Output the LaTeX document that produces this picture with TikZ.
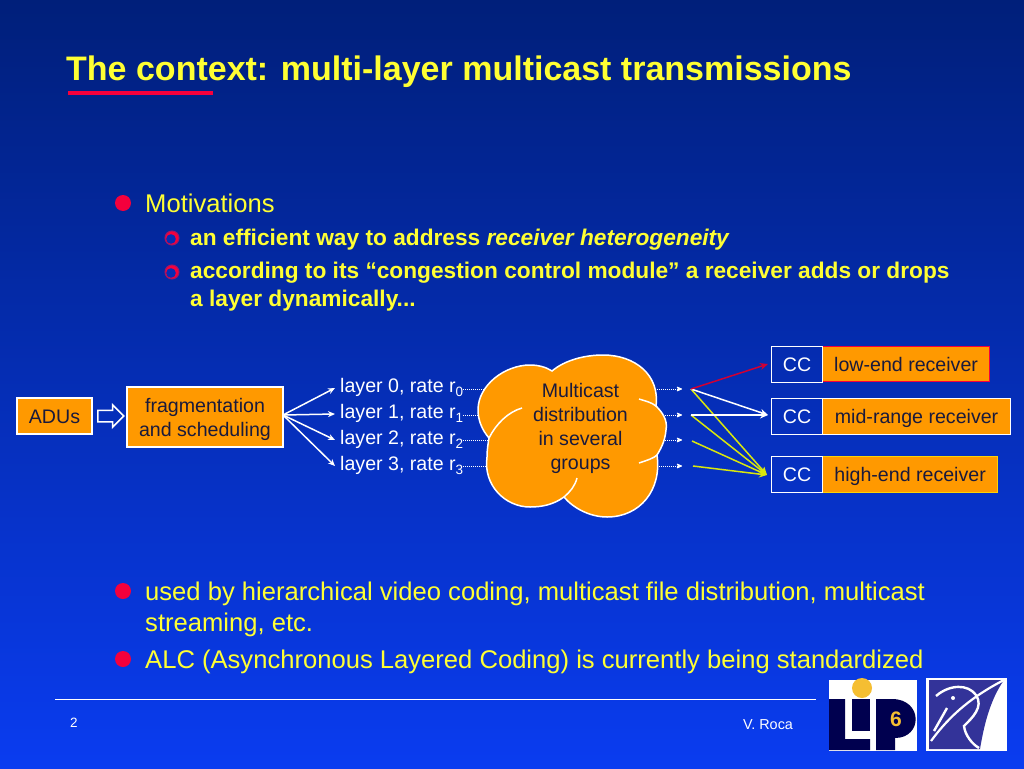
\documentclass[tikz,border=0pt]{standalone}
\usepackage{fontspec}
\setmainfont{Liberation Sans}
\usetikzlibrary{arrows.meta,shapes,positioning}
\definecolor{slideyellow}{HTML}{FFFF33}
\definecolor{boxorange}{HTML}{FF9900}
\definecolor{bulletred}{HTML}{F5003C}
\definecolor{darktext}{HTML}{1A1A3C}
\definecolor{bgtop}{HTML}{001F7A}
\definecolor{bgmid}{HTML}{062DB4}
\definecolor{bgbottom}{HTML}{0A3CF0}
\definecolor{lipnavy}{HTML}{00004F}
\definecolor{lipyellow}{HTML}{F5BE32}
\definecolor{inriablue}{HTML}{333399}
\newcommand{\ratesub}[1]{\raisebox{-4pt}{\fontsize{13.5}{14}\selectfont #1}}
\tikzset{
    slidetext/.style={
    anchor=base west,inner sep=0pt,text=slideyellow,font=\fontsize{25.6}{29}\selectfont
    },
    subtext/.style={
    anchor=base west,inner sep=0pt,text=slideyellow,font=\fontsize{22.7}{28}\selectfont\bfseries
    },
    whitetext/.style={
    anchor=base west,inner sep=0pt,text=white,font=\fontsize{19.6}{22}\selectfont
    },
    orangebox/.style={
    rectangle,draw=white,fill=boxorange,line width=1.2pt,text=darktext,inner sep=0pt,
    font=\fontsize{19.6}{24}\selectfont,align=center
    },
    oneline/.style={
    text height=14pt,text depth=0pt
    },
    ccbox/.style={
    rectangle,draw=white,fill=none,line width=1.2pt,text=white,inner sep=0pt,oneline,
    minimum width=51pt,minimum height=36pt,font=\fontsize{19.6}{22}\selectfont
    },
    bigbullet/.style={
    circle,fill=bulletred,minimum size=16pt,inner sep=0pt
    },
    smallbullet/.style={
    circle,draw=bulletred!55!inriablue,line width=1pt,fill=bulletred,minimum size=14pt,inner sep=0pt,
    path picture={\fill[bgmid] (-1pt,-1pt) circle (4.8pt);}
    },
    layerline/.style={
    draw=white,line width=1.5pt,-{Stealth[length=7pt,width=6pt]}
    },
    dotline/.style={
    draw=white,line width=1pt,densely dotted,-{Stealth[length=7pt,width=6pt,round,sep=0pt]}
    },
    recline/.style={
    line width=1.5pt,-{Stealth[length=8pt,width=7pt]}
    },
}
\begin{document}
\begin{tikzpicture}[x=1pt,y=-1pt]
   \useasboundingbox (0,0) rectangle (1024,768);
   \shade[top color=bgtop,middle color=bgmid,bottom color=bgbottom] (0,0) rectangle (1024,768);

   % title
   \node[anchor=base west,inner sep=0pt,text=slideyellow,font=\fontsize{34}{40}\selectfont\bfseries] (title) at (66,80) {The context: multi-layer multicast transmissions};
   \fill[bulletred] (68,91) rectangle (213,95);

   % bullets
   \node[bigbullet] (b0) at (123,203) {};
   \node[slidetext] (motiv) at (145,212) {Motivations};
   \node[smallbullet] (s0) at (172,238) {};
   \node[subtext] (sub0) at (190,245) {an efficient way to address \textit{receiver heterogeneity}};
   \node[smallbullet] (s1) at (172,272) {};
   \node[subtext] (sub1) at (190,278) {according to its “congestion control module” a receiver adds or drops};
   \node[subtext] (sub2) at (190,306) {a layer dynamically...};
   \node[bigbullet] (b1) at (123,591) {};
   \node[slidetext] (used0) at (145,600) {used by hierarchical video coding, multicast file distribution, multicast};
   \node[slidetext] (used1) at (145,631) {streaming, etc.};
   \node[bigbullet] (b2) at (123,659) {};
   \node[slidetext] (alc) at (145,668) {ALC (Asynchronous Layered Coding) is currently being standardized};

   % left part
   \node[orangebox,oneline,minimum width=75pt,minimum height=36pt] (adu) at (54.5,416) {ADUs};
   \node[orangebox,minimum width=156pt,minimum height=60pt] (frag) at (205,417) {\rule{0pt}{19pt}fragmentation\\and scheduling};
   \node[single arrow,draw=white,line width=1.5pt,fill=none,minimum height=26pt,anchor=tail,
     single arrow head extend=5.5pt,inner sep=5pt] (dbl) at (97,416) {};
   \node[whitetext] (l0) at (340,392) {layer 0, rate r\ratesub{0}};
   \node[whitetext] (l1) at (340,418) {layer 1, rate r\ratesub{1}};
   \node[whitetext] (l2) at (340,444) {layer 2, rate r\ratesub{2}};
   \node[whitetext] (l3) at (340,470) {layer 3, rate r\ratesub{3}};
   \coordinate (fragout) at (283,415);
   \coordinate (t0) at (335,388);
   \coordinate (t1) at (335,414);
   \coordinate (t2) at (335,440);
   \coordinate (t3) at (335,466);
   \path
    (fragout) edge[layerline] (t0)
    (fragout) edge[layerline] (t1)
    (fragout) edge[layerline] (t2)
    (fragout) edge[layerline] (t3);

   % dotted lines go behind the cloud
   \coordinate (d0) at (682,389);
   \coordinate (d1) at (682,415);
   \coordinate (d2) at (682,440);
   \coordinate (d3) at (682,466);
   \draw[dotline] (l0.east |- d0) -- (d0);
   \draw[dotline] (l1.east |- d1) -- (d1);
   \draw[dotline] (l2.east |- d2) -- (d2);
   \draw[dotline] (l3.east |- d3) -- (d3);

   % cloud
   \draw[white,fill=boxorange,line width=1.5pt]
     (552,371) .. controls (565,360) and (585,355) .. (603,355)
     .. controls (635,355) and (660,375) .. (656,406)
     .. controls (662,412) and (668,420) .. (666,430)
     .. controls (665,442) and (660,450) .. (657,455)
     .. controls (662,490) and (640,517) .. (607,517)
     .. controls (590,517) and (573,508) .. (564,497)
     .. controls (553,505) and (541,507) .. (530,507)
     .. controls (505,507) and (483,485) .. (487,457)
     .. controls (487,450) and (488,444) .. (489,438)
     .. controls (482,430) and (478,420) .. (478,410)
     .. controls (478,385) and (505,365) .. (530,365)
     .. controls (538,365) and (546,367) .. (552,371) -- cycle;
   \draw[white,line width=1.5pt] (522,408) .. controls (508,412) and (496,424) .. (489,438);
   \draw[white,line width=1.5pt] (639,399) .. controls (645,401) and (651,402) .. (656,406);
   \draw[white,line width=1.5pt] (639,463) .. controls (648,460) and (654,458) .. (657,455);
   \draw[white,line width=1.5pt] (577,478) .. controls (575,486) and (570,492) .. (564,497);
   \node[text=darktext,font=\fontsize{19.6}{24}\selectfont,align=center,inner sep=0pt] (cloud) at (580.5,428) {Multicast\\distribution\\in several\\groups};

   % receivers
   \node[orangebox,oneline,draw=bulletred,minimum width=167pt,minimum height=35pt,anchor=north west] (low) at (822,346) {low-end receiver};
   \node[orangebox,oneline,minimum width=188pt,minimum height=36pt,anchor=north west] (mid) at (822,398) {mid-range receiver};
   \node[orangebox,oneline,draw=yellow!70!orange,minimum width=175pt,minimum height=36pt,anchor=north west] (high) at (822,456) {high-end receiver};
   \node[ccbox,anchor=north west] (cc0) at (771,346) {CC};
   \node[ccbox,anchor=north west] (cc1) at (771,398) {CC};
   \node[ccbox,anchor=north west] (cc2) at (771,456) {CC};

   \coordinate (f0) at (691,389);
   \coordinate (f1) at (691,415);
   \coordinate (f2) at (692,441);
   \coordinate (f3) at (693,466);
   \coordinate (r0) at (768,364);
   \coordinate (r1) at (768,415);
   \coordinate (r2) at (767,475);
   \path
    (f0) edge[recline,draw=yellow!85!green] (r2)
    (f1) edge[recline,draw=yellow!85!green] (r2)
    (f2) edge[recline,draw=yellow!85!green] (r2)
    (f3) edge[recline,draw=yellow!85!green] (r2)
    (f0) edge[recline,draw=white] (r1)
    (f1) edge[recline,draw=white] (r1)
    (f0) edge[recline,draw=bulletred!85!black] (r0);

   % footer
   \coordinate (fl) at (55,699);
   \coordinate (fr) at (816,699);
   \draw[white,line width=1pt] (fl) -- (fr);
   \node[text=white,font=\fontsize{13.5}{16}\selectfont,inner sep=0pt] (page) at (74,723) {2};
   \node[text=white,font=\fontsize{14.4}{16}\selectfont,inner sep=0pt] (author) at (768,725) {V. Roca};

   % logos
   \fill[white] (829,680) rectangle (917,751);
   \fill[lipnavy] (829,699) rectangle (845,750) (845,739) rectangle (870,750);
   \fill[lipnavy] (852,699) rectangle (870,731);
   \fill[lipnavy] (876,750) -- (876,699) -- (892,699) .. controls (923,699) and (923,738) .. (895,738) -- (895,750) -- cycle;
   \fill[lipyellow] (862,688) circle (10);
   \node[text=lipyellow,font=\fontsize{21}{22}\selectfont\bfseries,inner sep=0pt] (six) at (896,719) {6};
   \fill[white] (926,678) rectangle (1007,751);
   \fill[inriablue] (929,680) -- (1004,680) .. controls (990,700) and (984,725) .. (980,749) -- (929,749) -- cycle;
   \draw[white,line width=2.2pt] (931,741) .. controls (945,722) and (965,700) .. (1004,680);
   \draw[white,line width=2.4pt] (936,696) .. controls (950,684) and (968,684) .. (976,695) .. controls (984,707) and (972,718) .. (964,726) .. controls (965,735) and (972,744) .. (979,748);
   \draw[white,line width=2.4pt] (934,731) -- (947,708);
   \fill[white] (953,698) circle (2);
\end{tikzpicture}
\end{document}
